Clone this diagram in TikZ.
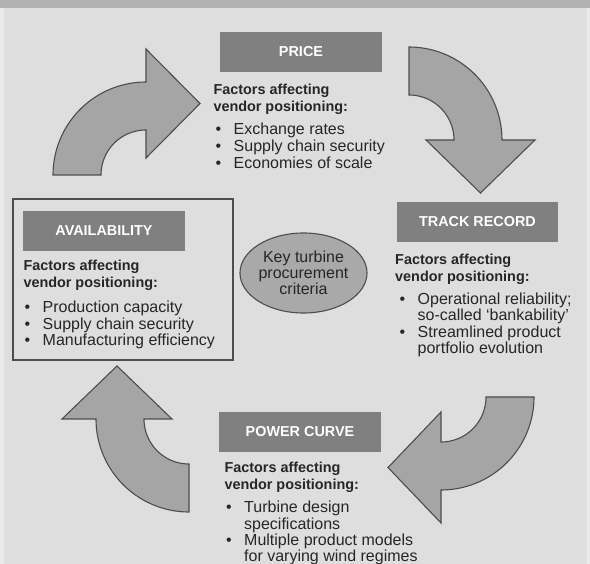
\documentclass[tikz,border=0pt]{standalone}
\usepackage{fontspec}
\setmainfont{Liberation Sans}
\usetikzlibrary{shapes.geometric}
\definecolor{bgc}{HTML}{DEDEDE}
\definecolor{bandc}{HTML}{B1B1B1}
\definecolor{stripc}{HTML}{EAEAEA}
\definecolor{boxc}{HTML}{808080}
\definecolor{arrowc}{HTML}{A5A5A5}
\definecolor{edgec}{HTML}{4D4D4D}
\definecolor{txtc}{HTML}{262626}
\definecolor{ellc}{HTML}{A9A9A9}
\newcommand\bl{\makebox[18pt][l]{\textbullet}}
\newcommand\ind{\hspace*{18pt}}
\begin{document}
\begin{tikzpicture}[x=1pt,y=-1pt,
  catbox/.style={rectangle, fill=boxc, text=white, inner sep=0pt,
    minimum width=162pt, minimum height=40pt,
    font=\fontsize{14.4}{16}\selectfont\bfseries},
  headtxt/.style={anchor=base west, inner sep=0pt, text=txtc,
    font=\fontsize{14.4}{17}\selectfont\bfseries},
  listtxt/.style={anchor=base west, inner sep=0pt, text=txtc,
    font=\fontsize{16}{16.5}\selectfont},
  bigarrow/.style={fill=arrowc, draw=edgec, line width=1.1pt, line join=miter},
  frame/.style={draw=edgec, line width=1.6pt}]
\useasboundingbox (0,0) rectangle (590,564);
\clip (0,0) rectangle (590,564);
% background
\fill[bgc] (0,0) rectangle (590,564);
\fill[stripc] (0,0) rectangle (4,564);
\fill[stripc] (587,0) rectangle (590,564);
\fill[bandc] (0,0) rectangle (590,8.5);

% curved arrows
\draw[bigarrow] (53,175) -- plot[domain=180:270, samples=40] ({146+93*cos(\x)},{175+93*sin(\x)})
  -- (146,49) -- (200,103.5) -- (146,158) -- (146,130)
  -- plot[domain=270:180, samples=40] ({146+45*cos(\x)},{175+45*sin(\x)}) -- cycle;
\draw[bigarrow] (409,95) -- plot[domain=270:360, samples=40] ({409+93*cos(\x)},{140+93*sin(\x)})
  -- (535,140) -- (480.5,193) -- (426,140) -- (454,140)
  -- plot[domain=360:270, samples=40] ({409+45*cos(\x)},{140+45*sin(\x)}) -- cycle;
\draw[bigarrow] (486,397) -- plot[domain=0:90, samples=40] ({441+93*cos(\x)},{397+93*sin(\x)})
  -- (441,523) -- (388,467.5) -- (441,412) -- (441,442)
  -- plot[domain=90:0, samples=40] ({441+45*cos(\x)},{397+45*sin(\x)}) -- cycle;
\draw[bigarrow] (189,464) -- plot[domain=90:180, samples=40] ({189+93*cos(\x)},{419+93*sin(\x)})
  -- (62,419) -- (117,366) -- (172,419) -- (144,419)
  -- plot[domain=180:90, samples=40] ({189+45*cos(\x)},{419+45*sin(\x)}) -- cycle;

% PRICE
\node[catbox] (price) at (301,52) {PRICE};
\node[headtxt] (priceHead) at (213.3,95) {\begin{tabular}[t]{@{}l@{}}Factors affecting\\vendor positioning:\end{tabular}};
\node[listtxt] (priceList) at (215.5,135) {\begin{tabular}[t]{@{}l@{}}\bl Exchange rates\\\bl Supply chain security\\\bl Economies of scale\end{tabular}};

% AVAILABILITY
\draw[frame] (13,199) rectangle (233,360);
\node[catbox] (avail) at (104,231) {AVAILABILITY};
\node[headtxt] (availHead) at (23.3,270.7) {\begin{tabular}[t]{@{}l@{}}Factors affecting\\vendor positioning:\end{tabular}};
\node[listtxt] (availList) at (24.5,312.7) {\begin{tabular}[t]{@{}l@{}}\bl Production capacity\\\bl Supply chain security\\\bl Manufacturing efficiency\end{tabular}};

% TRACK RECORD
\node[catbox, minimum width=161pt] (track) at (477.5,222) {TRACK RECORD};
\node[headtxt] (trackHead) at (395,264.5) {\begin{tabular}[t]{@{}l@{}}Factors affecting\\vendor positioning:\end{tabular}};
\node[listtxt] (trackList) at (399.5,304.3) {\begin{tabular}[t]{@{}l@{}}\bl Operational reliability;\\\ind so-called ‘bankability’\\\bl Streamlined product\\\ind portfolio evolution\end{tabular}};

% POWER CURVE
\node[catbox] (power) at (300,432) {POWER CURVE};
\node[headtxt] (powerHead) at (224.3,472.7) {\begin{tabular}[t]{@{}l@{}}Factors affecting\\vendor positioning:\end{tabular}};
\node[listtxt, font=\fontsize{16}{15.9}\selectfont] (powerList) at (226,512.8) {\begin{tabular}[t]{@{}l@{}}\bl Turbine design\\\ind specifications\\\bl Multiple product models\\\ind for varying wind regimes\end{tabular}};

% centre ellipse
\node[ellipse, fill=ellc, draw=edgec, line width=1.1pt, inner sep=0pt,
  minimum width=121pt, minimum height=80pt, align=center, text=txtc,
  font=\fontsize{16}{16}\selectfont] (key) at (303.5,273) {Key turbine\\procurement\\criteria};
\end{tikzpicture}
\end{document}
